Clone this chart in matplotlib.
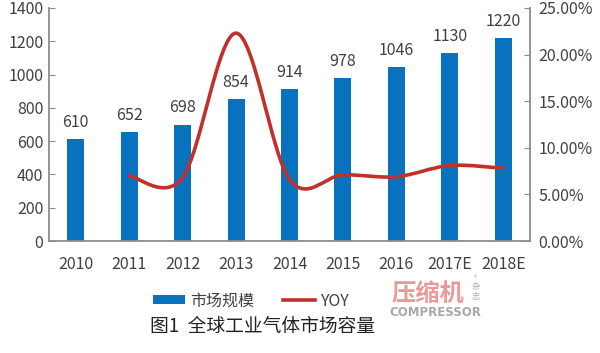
import matplotlib
matplotlib.use("Agg")
import matplotlib.pyplot as plt
import numpy as np
from matplotlib.path import Path
from matplotlib.patches import PathPatch
from matplotlib.lines import Line2D
from matplotlib.patches import Patch
from matplotlib.ticker import FuncFormatter

plt.rcParams['font.family'] = ['Noto Sans CJK SC', 'DejaVu Sans']

years = ['2010', '2011', '2012', '2013', '2014', '2015', '2016', '2017E', '2018E']
market = [610, 652, 698, 854, 914, 978, 1046, 1130, 1220]
yoy_years_idx = [1, 2, 3, 4, 5, 6, 7, 8]
yoy = [7.0, 6.8, 22.3, 6.6, 7.1, 6.9, 8.1, 7.8]  # percent

bar_color = '#0872BE'
line_color = '#C0312B'
text_color = '#404040'
spine_color = '#8C8C8C'

fig = plt.figure(figsize=(6.0, 3.53), dpi=100)
ax = fig.add_axes([49/600, 1-241/353, (530-49)/600, (241-8)/353])
ax2 = ax.twinx()

x = np.arange(len(years))
ax.bar(x, market, width=0.32, color=bar_color, zorder=2)
for xi, v in zip(x, market):
    ax.annotate(str(v), (xi, v), xytext=(0, 6), textcoords='offset points',
                ha='center', va='bottom', fontsize=11.5, color=text_color)

ax.set_xlim(-0.5, len(years) - 0.5)
ax.set_ylim(0, 1400)
ax.set_yticks(range(0, 1401, 200))
ax.set_xticks(x)
ax.set_xticklabels(years)

ax2.set_ylim(0, 25)
ax2.set_yticks(range(0, 26, 5))
ax2.yaxis.set_major_formatter(FuncFormatter(lambda v, p: f"{v:.2f}%"))

# smoothed line (Catmull-Rom through the data points)
px = np.array(yoy_years_idx, dtype=float)
py = np.array(yoy, dtype=float)
verts = [(px[0], py[0])]
codes = [Path.MOVETO]
n = len(px)
for i in range(n - 1):
    p0 = (px[i-1], py[i-1]) if i > 0 else (px[i], py[i])
    p1 = (px[i], py[i])
    p2 = (px[i+1], py[i+1])
    p3 = (px[i+2], py[i+2]) if i + 2 < n else (px[i+1], py[i+1])
    c1 = (p1[0] + (p2[0]-p0[0])/6, p1[1] + (p2[1]-p0[1])/6)
    c2 = (p2[0] - (p3[0]-p1[0])/6, p2[1] - (p3[1]-p1[1])/6)
    verts += [c1, c2, p2]
    codes += [Path.CURVE4]*3
ax2.add_patch(PathPatch(Path(verts, codes), facecolor='none', edgecolor=line_color,
                        lw=2.6, capstyle='round', zorder=3))

for a in (ax, ax2):
    for s in a.spines.values():
        s.set_color(spine_color)
        s.set_linewidth(1.3)
    a.spines['top'].set_visible(False)
ax.spines['right'].set_visible(False)
ax2.spines['left'].set_visible(False)
ax2.spines['bottom'].set_visible(False)

ax.tick_params(axis='y', direction='in', length=4, color=spine_color,
               labelsize=11.5, labelcolor=text_color, pad=4)
ax.tick_params(axis='x', length=0, labelsize=11.5, labelcolor=text_color, pad=11)
ax2.tick_params(axis='y', direction='in', length=4, color=spine_color,
                labelsize=11.5, labelcolor=text_color, pad=6)

handles = [Patch(facecolor=bar_color, edgecolor='none'),
           Line2D([0], [0], color=line_color, lw=2.6)]
fig.legend(handles, ['市场规模', 'YOY'], loc='center', bbox_to_anchor=(0.418, 1-301/353),
           ncol=2, frameon=False, prop={'size': 11.5},
           handlelength=2.0, handleheight=0.5,
           columnspacing=1.8, handletextpad=0.3, labelcolor=text_color)

fig.text(0.438, 1-326/353, '图1  全球工业气体市场容量', ha='center', va='center',
         fontsize=13.5, color='#222222')

# watermark logo
fig.text(428/600, 1-294/353, '压缩机', ha='center', va='center', fontsize=17.5,
         fontweight='bold', color='#EA9A96')
fig.text(476/600, 1-287/353, '杂', ha='center', va='center', fontsize=6, color='#C8A0A0')
fig.text(476/600, 1-297/353, '志', ha='center', va='center', fontsize=6, color='#C8A0A0')
fig.text(475/600, 1-278/353, '®', ha='center', va='center', fontsize=5, color='#B0B0B0')
fig.text(435/600, 1-313/353, 'COMPRESSOR', ha='center', va='center', fontsize=8.5,
         fontweight='bold', color='#A8A8A8', family=['DejaVu Sans'])

fig.savefig('out.png', dpi=100)
